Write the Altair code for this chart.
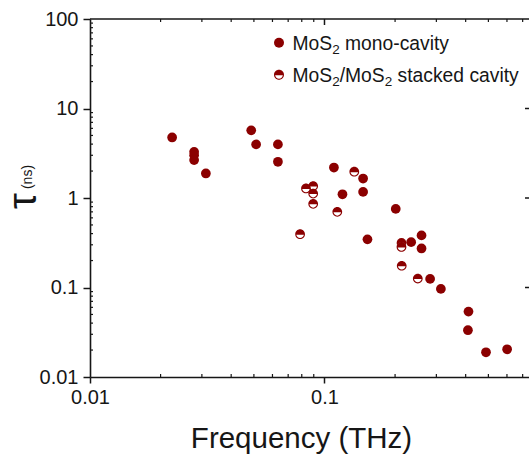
import altair as alt
import pandas as pd

# ---------------- data ----------------
mono_freq = [0.0224, 0.0278, 0.0278, 0.0278, 0.0312, 0.0487, 0.0511, 0.0633, 0.0633,
             0.1097, 0.1193, 0.1461, 0.1461, 0.1525, 0.2013, 0.2130, 0.2342, 0.2593,
             0.2593, 0.2821, 0.3136, 0.4112, 0.4090, 0.4884, 0.6010]
mono_tau = [4.75, 3.28, 3.01, 2.65, 1.88, 5.70, 3.97, 3.97, 2.54,
            2.19, 1.10, 1.65, 1.17, 0.345, 0.755, 0.315, 0.321, 0.382,
            0.273, 0.1247, 0.0964, 0.0538, 0.0333, 0.0189, 0.0204]

stack_freq = [0.1340, 0.0834, 0.0895, 0.0895, 0.0895, 0.1134, 0.0787, 0.2130, 0.2135, 0.2500]
stack_tau = [1.97, 1.28, 1.36, 1.12, 0.86, 0.70, 0.394, 0.284, 0.175, 0.126]

x_major = [0.01, 0.1]
y_major = [0.01, 0.1, 1, 10, 100]
x_minor = [0.02, 0.03, 0.04, 0.05, 0.06, 0.07, 0.08, 0.09, 0.2, 0.3, 0.4, 0.5, 0.6, 0.7]
y_minor = [m * 10.0 ** e for e in (-2, -1, 0, 1) for m in range(2, 10)]
right_ticks = [0.1, 1, 10]

x_title = "Frequency (THz)"
y_title_main = "τ"
y_title_sub = "(ns)"
legend_lines = [
    [("MoS", False), ("2", True), (" mono-cavity", False)],
    [("MoS", False), ("2", True), ("/MoS", False), ("2", True), (" stacked cavity", False)],
]

# ---------------- layout ----------------
W, H = 439, 358
PAD_L, PAD_T = 90, 19
RED = "#8b0000"
INK = "#161616"
FONT = "Liberation Sans"
LABEL_FS = 20

HALF = ("M-1,0A1,1,0,1,1,1,0A1,1,0,1,1,-1,0Z"
        "M-0.7736,0.1A0.78,0.78,0,0,0,0.7736,0.1Z")

x_scale = alt.Scale(type="log", domain=[0.01, 0.745], nice=False)
y_scale = alt.Scale(type="log", domain=[0.01, 100], nice=False)

df_mono = pd.DataFrame({"f": mono_freq, "tau": mono_tau})
df_stack = pd.DataFrame({"f": stack_freq, "tau": stack_tau})

x_axis = alt.Axis(values=x_major, format=".2~f", tickSize=6, tickWidth=1.5,
                  domainWidth=1.6, domainColor=INK, tickColor=INK, grid=False,
                  labelFontSize=LABEL_FS, labelFont=FONT, labelColor=INK, labelPadding=4,
                  labelFlush=False, labelOverlap=False,
                  title=x_title, titleFontSize=29.5, titleFont=FONT, titleFontWeight="normal",
                  titleColor=INK, titleX=211, titleY=70, titleBaseline="alphabetic",
                  titleAlign="center")
y_axis = alt.Axis(values=y_major, format="~g", tickSize=7, tickWidth=1.5,
                  domainWidth=1.6, domainColor=INK, tickColor=INK, grid=False,
                  labelFontSize=LABEL_FS, labelFont=FONT, labelColor=INK, labelPadding=5,
                  labelFlush=False, labelOverlap=False, title="")

def X(field):
    return alt.X(field, scale=x_scale, axis=x_axis)

def Y(field):
    return alt.Y(field, scale=y_scale, axis=y_axis)

mono = alt.Chart(df_mono).mark_point(filled=True, size=95, color=RED, opacity=1, shape="circle").encode(
    x=X("f:Q"), y=Y("tau:Q"))
stack_bg = alt.Chart(df_stack).mark_point(filled=True, size=82, color="white", opacity=1, shape="circle").encode(
    x=X("f:Q"), y=Y("tau:Q"))
stack = alt.Chart(df_stack).mark_point(filled=True, size=95, color=RED, opacity=1, shape=HALF).encode(
    x=X("f:Q"), y=Y("tau:Q"))

def vx_rules(vals, y0, y1, w=1.2):
    return alt.Chart(pd.DataFrame({"v": vals})).mark_rule(color=INK, strokeWidth=w).encode(
        x=X("v:Q"), y=alt.value(y0), y2=alt.value(y1))

def vy_rules(vals, x0, x1, w=1.2):
    return alt.Chart(pd.DataFrame({"v": vals})).mark_rule(color=INK, strokeWidth=w).encode(
        y=Y("v:Q"), x=alt.value(x0), x2=alt.value(x1))

ticks = [
    vx_rules(x_minor, H - 3, H),          # bottom minor (inward)
    vx_rules(x_minor, 0, 3),              # top minor (inward)
    vx_rules([0.1], 0, 6, 1.5),           # top major (inward)
    vy_rules(y_minor, 0, 3),              # left minor (inward)
    vy_rules(right_ticks, W - 4, W, 1.5), # right major (inward)
    vy_rules([100], 0, W, 1.6),           # top frame line
]

def txt(s, x, y, size, angle=0, align="left"):
    props = dict(font=FONT, fontSize=size, color=INK, align=align, baseline="alphabetic")
    if angle:
        props["angle"] = angle
    return alt.Chart(pd.DataFrame({"t": [s]})).mark_text(**props).encode(
        x=alt.value(x), y=alt.value(y), text="t:N")

# y title: big tau + small (ns)
texts = [
    txt(y_title_main, 36 - PAD_L, 201 - PAD_T, 40, angle=270, align="center"),
    txt(y_title_sub, 31.5 - PAD_L, 177 - PAD_T, 14, angle=270, align="center"),
]

# legend (manual, to allow subscripts)
ADV = {" ": 278, "/": 278, "-": 333, "2": 556, "M": 833, "S": 667, "a": 556, "c": 500,
       "d": 556, "e": 556, "i": 222, "k": 500, "m": 833, "n": 556, "o": 556, "s": 500,
       "t": 278, "v": 500, "y": 500}
LEG_FS, SUB_FS = 19.3, 13.5
def width(s, fs):
    return sum(ADV.get(ch, 556) for ch in s) / 1000.0 * fs

leg_x0 = 292.5 - PAD_L
leg_base = [49.5 - PAD_T, 81.5 - PAD_T]
for line, base in zip(legend_lines, leg_base):
    x = leg_x0
    for piece, sub in line:
        fs = SUB_FS if sub else LEG_FS
        lead = len(piece) - len(piece.lstrip(" "))
        x += width(" " * lead, fs)
        body = piece.lstrip(" ")
        texts.append(txt(body, x, base + (4.5 if sub else 0), fs))
        x += width(body, fs)

one = pd.DataFrame({"a": [0]})
leg_sym = [
    alt.Chart(one).mark_point(filled=True, size=100, color=RED, opacity=1, shape="circle").encode(
        x=alt.value(279 - PAD_L), y=alt.value(42.8 - PAD_T)),
    alt.Chart(one).mark_point(filled=True, size=88, color="white", opacity=1, shape="circle").encode(
        x=alt.value(279 - PAD_L), y=alt.value(74.8 - PAD_T)),
    alt.Chart(one).mark_point(filled=True, size=100, color=RED, opacity=1, shape=HALF).encode(
        x=alt.value(279 - PAD_L), y=alt.value(74.8 - PAD_T)),
]

chart = alt.layer(mono, stack_bg, stack, *ticks, *texts, *leg_sym).properties(
    width=W, height=H,
    autosize=alt.AutoSizeParams(type="none"),
    padding={"left": PAD_L, "top": PAD_T, "right": 0, "bottom": 454 - PAD_T - H},
    background="white",
).configure_view(stroke=None)

chart.save("out.html", embed_options={"renderer": "svg", "actions": False})
